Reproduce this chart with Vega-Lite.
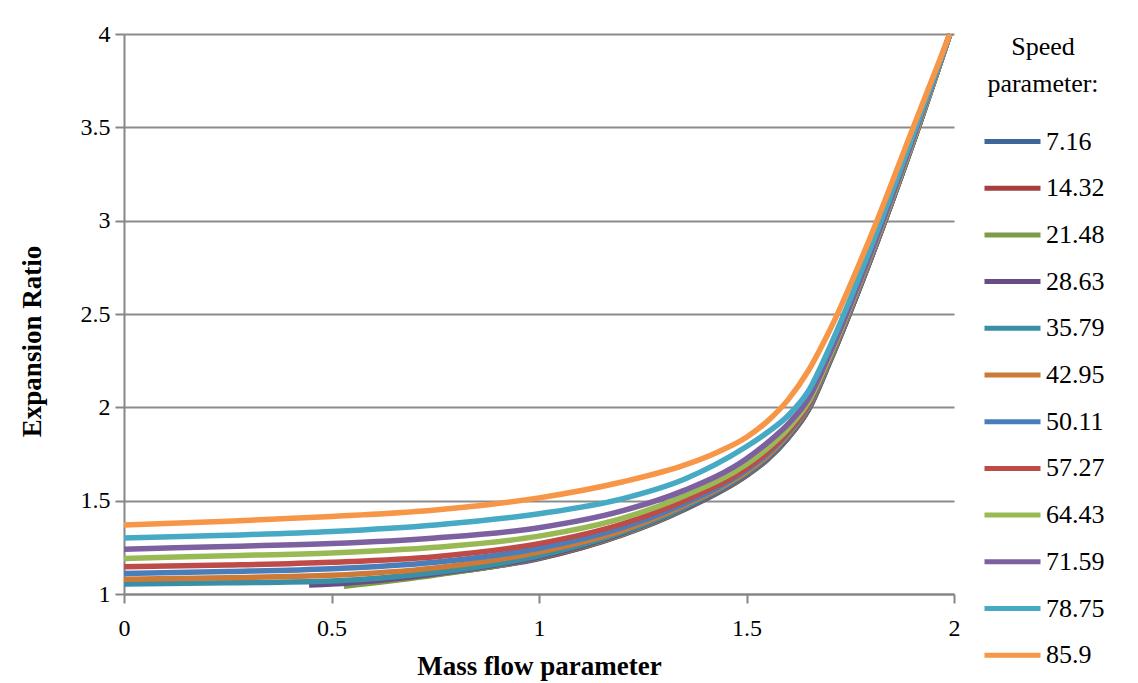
{
  "$schema": "https://vega.github.io/schema/vega-lite/v6.json",
  "width": 830,
  "height": 560,
  "autosize": {"type": "none"},
  "padding": {"left": 124, "top": 34, "right": 184, "bottom": 89},
  "background": "white",
  "config": {
    "font": "Liberation Serif",
    "view": {"stroke": null},
    "axis": {"labelFont": "Liberation Serif", "titleFont": "Liberation Serif", "labelColor": "black", "titleColor": "black"},
    "legend": {"labelFont": "Liberation Serif", "titleFont": "Liberation Serif"}
  },
  "data": {
    "values": [
      {"m": 0.72, "e": 1.1, "s": "7.16"}, {"m": 0.8, "e": 1.12, "s": "7.16"}, {"m": 1.0, "e": 1.19, "s": "7.16"}, {"m": 1.2, "e": 1.316, "s": "7.16"}, {"m": 1.35, "e": 1.453, "s": "7.16"}, {"m": 1.5, "e": 1.635, "s": "7.16"}, {"m": 1.55, "e": 1.72, "s": "7.16"}, {"m": 1.6, "e": 1.835, "s": "7.16"}, {"m": 1.65, "e": 1.99, "s": "7.16"}, {"m": 1.7, "e": 2.24, "s": "7.16"}, {"m": 1.8, "e": 2.8, "s": "7.16"}, {"m": 1.9, "e": 3.41, "s": "7.16"}, {"m": 1.99, "e": 4.0, "s": "7.16"},
      {"m": 0.62, "e": 1.085, "s": "14.32"}, {"m": 0.75, "e": 1.11, "s": "14.32"}, {"m": 1.0, "e": 1.192, "s": "14.32"}, {"m": 1.2, "e": 1.318, "s": "14.32"}, {"m": 1.35, "e": 1.455, "s": "14.32"}, {"m": 1.5, "e": 1.637, "s": "14.32"}, {"m": 1.55, "e": 1.722, "s": "14.32"}, {"m": 1.6, "e": 1.837, "s": "14.32"}, {"m": 1.65, "e": 1.992, "s": "14.32"}, {"m": 1.7, "e": 2.242, "s": "14.32"}, {"m": 1.8, "e": 2.8, "s": "14.32"}, {"m": 1.9, "e": 3.41, "s": "14.32"}, {"m": 1.99, "e": 4.0, "s": "14.32"},
      {"m": 0.53, "e": 1.042, "s": "21.48"}, {"m": 0.75, "e": 1.102, "s": "21.48"}, {"m": 1.0, "e": 1.195, "s": "21.48"}, {"m": 1.2, "e": 1.32, "s": "21.48"}, {"m": 1.35, "e": 1.458, "s": "21.48"}, {"m": 1.5, "e": 1.64, "s": "21.48"}, {"m": 1.55, "e": 1.725, "s": "21.48"}, {"m": 1.6, "e": 1.84, "s": "21.48"}, {"m": 1.65, "e": 1.995, "s": "21.48"}, {"m": 1.7, "e": 2.244, "s": "21.48"}, {"m": 1.8, "e": 2.8, "s": "21.48"}, {"m": 1.9, "e": 3.41, "s": "21.48"}, {"m": 1.99, "e": 4.0, "s": "21.48"},
      {"m": 0.446, "e": 1.048, "s": "28.63"}, {"m": 0.5, "e": 1.053, "s": "28.63"}, {"m": 0.75, "e": 1.108, "s": "28.63"}, {"m": 1.0, "e": 1.198, "s": "28.63"}, {"m": 1.2, "e": 1.325, "s": "28.63"}, {"m": 1.35, "e": 1.46, "s": "28.63"}, {"m": 1.5, "e": 1.643, "s": "28.63"}, {"m": 1.55, "e": 1.728, "s": "28.63"}, {"m": 1.6, "e": 1.843, "s": "28.63"}, {"m": 1.65, "e": 1.998, "s": "28.63"}, {"m": 1.7, "e": 2.246, "s": "28.63"}, {"m": 1.8, "e": 2.8, "s": "28.63"}, {"m": 1.9, "e": 3.41, "s": "28.63"}, {"m": 1.99, "e": 4.0, "s": "28.63"},
      {"m": 0, "e": 1.054, "s": "35.79"}, {"m": 0.25, "e": 1.06, "s": "35.79"}, {"m": 0.5, "e": 1.07, "s": "35.79"}, {"m": 0.75, "e": 1.115, "s": "35.79"}, {"m": 1.0, "e": 1.205, "s": "35.79"}, {"m": 1.2, "e": 1.33, "s": "35.79"}, {"m": 1.35, "e": 1.465, "s": "35.79"}, {"m": 1.5, "e": 1.648, "s": "35.79"}, {"m": 1.55, "e": 1.733, "s": "35.79"}, {"m": 1.6, "e": 1.848, "s": "35.79"}, {"m": 1.65, "e": 2.003, "s": "35.79"}, {"m": 1.7, "e": 2.25, "s": "35.79"}, {"m": 1.8, "e": 2.805, "s": "35.79"}, {"m": 1.9, "e": 3.415, "s": "35.79"}, {"m": 1.99, "e": 4.0, "s": "35.79"},
      {"m": 0, "e": 1.079, "s": "42.95"}, {"m": 0.25, "e": 1.087, "s": "42.95"}, {"m": 0.5, "e": 1.1, "s": "42.95"}, {"m": 0.75, "e": 1.14, "s": "42.95"}, {"m": 1.0, "e": 1.225, "s": "42.95"}, {"m": 1.2, "e": 1.34, "s": "42.95"}, {"m": 1.35, "e": 1.475, "s": "42.95"}, {"m": 1.5, "e": 1.655, "s": "42.95"}, {"m": 1.55, "e": 1.74, "s": "42.95"}, {"m": 1.6, "e": 1.855, "s": "42.95"}, {"m": 1.65, "e": 2.008, "s": "42.95"}, {"m": 1.7, "e": 2.255, "s": "42.95"}, {"m": 1.8, "e": 2.81, "s": "42.95"}, {"m": 1.9, "e": 3.42, "s": "42.95"}, {"m": 1.99, "e": 4.0, "s": "42.95"},
      {"m": 0, "e": 1.11, "s": "50.11"}, {"m": 0.25, "e": 1.12, "s": "50.11"}, {"m": 0.5, "e": 1.135, "s": "50.11"}, {"m": 0.75, "e": 1.17, "s": "50.11"}, {"m": 1.0, "e": 1.245, "s": "50.11"}, {"m": 1.2, "e": 1.355, "s": "50.11"}, {"m": 1.35, "e": 1.485, "s": "50.11"}, {"m": 1.5, "e": 1.665, "s": "50.11"}, {"m": 1.55, "e": 1.75, "s": "50.11"}, {"m": 1.6, "e": 1.862, "s": "50.11"}, {"m": 1.65, "e": 2.013, "s": "50.11"}, {"m": 1.7, "e": 2.26, "s": "50.11"}, {"m": 1.8, "e": 2.81, "s": "50.11"}, {"m": 1.9, "e": 3.42, "s": "50.11"}, {"m": 1.99, "e": 4.0, "s": "50.11"},
      {"m": 0, "e": 1.146, "s": "57.27"}, {"m": 0.25, "e": 1.155, "s": "57.27"}, {"m": 0.5, "e": 1.17, "s": "57.27"}, {"m": 0.75, "e": 1.2, "s": "57.27"}, {"m": 1.0, "e": 1.27, "s": "57.27"}, {"m": 1.2, "e": 1.375, "s": "57.27"}, {"m": 1.35, "e": 1.5, "s": "57.27"}, {"m": 1.5, "e": 1.675, "s": "57.27"}, {"m": 1.55, "e": 1.76, "s": "57.27"}, {"m": 1.6, "e": 1.87, "s": "57.27"}, {"m": 1.65, "e": 2.02, "s": "57.27"}, {"m": 1.7, "e": 2.265, "s": "57.27"}, {"m": 1.8, "e": 2.815, "s": "57.27"}, {"m": 1.9, "e": 3.42, "s": "57.27"}, {"m": 1.99, "e": 4.0, "s": "57.27"},
      {"m": 0, "e": 1.19, "s": "64.43"}, {"m": 0.25, "e": 1.205, "s": "64.43"}, {"m": 0.5, "e": 1.22, "s": "64.43"}, {"m": 0.75, "e": 1.25, "s": "64.43"}, {"m": 1.0, "e": 1.31, "s": "64.43"}, {"m": 1.2, "e": 1.405, "s": "64.43"}, {"m": 1.35, "e": 1.525, "s": "64.43"}, {"m": 1.5, "e": 1.695, "s": "64.43"}, {"m": 1.55, "e": 1.78, "s": "64.43"}, {"m": 1.6, "e": 1.885, "s": "64.43"}, {"m": 1.65, "e": 2.03, "s": "64.43"}, {"m": 1.7, "e": 2.27, "s": "64.43"}, {"m": 1.8, "e": 2.82, "s": "64.43"}, {"m": 1.9, "e": 3.42, "s": "64.43"}, {"m": 1.99, "e": 4.0, "s": "64.43"},
      {"m": 0, "e": 1.24, "s": "71.59"}, {"m": 0.25, "e": 1.255, "s": "71.59"}, {"m": 0.5, "e": 1.27, "s": "71.59"}, {"m": 0.75, "e": 1.3, "s": "71.59"}, {"m": 1.0, "e": 1.355, "s": "71.59"}, {"m": 1.2, "e": 1.445, "s": "71.59"}, {"m": 1.35, "e": 1.555, "s": "71.59"}, {"m": 1.5, "e": 1.725, "s": "71.59"}, {"m": 1.55, "e": 1.81, "s": "71.59"}, {"m": 1.6, "e": 1.91, "s": "71.59"}, {"m": 1.65, "e": 2.05, "s": "71.59"}, {"m": 1.7, "e": 2.285, "s": "71.59"}, {"m": 1.8, "e": 2.83, "s": "71.59"}, {"m": 1.9, "e": 3.43, "s": "71.59"}, {"m": 1.99, "e": 4.0, "s": "71.59"},
      {"m": 0, "e": 1.3, "s": "78.75"}, {"m": 0.25, "e": 1.315, "s": "78.75"}, {"m": 0.5, "e": 1.335, "s": "78.75"}, {"m": 0.75, "e": 1.37, "s": "78.75"}, {"m": 1.0, "e": 1.43, "s": "78.75"}, {"m": 1.2, "e": 1.51, "s": "78.75"}, {"m": 1.35, "e": 1.615, "s": "78.75"}, {"m": 1.5, "e": 1.79, "s": "78.75"}, {"m": 1.55, "e": 1.865, "s": "78.75"}, {"m": 1.6, "e": 1.955, "s": "78.75"}, {"m": 1.65, "e": 2.09, "s": "78.75"}, {"m": 1.7, "e": 2.32, "s": "78.75"}, {"m": 1.8, "e": 2.86, "s": "78.75"}, {"m": 1.9, "e": 3.45, "s": "78.75"}, {"m": 1.99, "e": 4.0, "s": "78.75"},
      {"m": 0, "e": 1.37, "s": "85.9"}, {"m": 0.25, "e": 1.39, "s": "85.9"}, {"m": 0.5, "e": 1.415, "s": "85.9"}, {"m": 0.75, "e": 1.45, "s": "85.9"}, {"m": 1.0, "e": 1.515, "s": "85.9"}, {"m": 1.2, "e": 1.6, "s": "85.9"}, {"m": 1.35, "e": 1.69, "s": "85.9"}, {"m": 1.43, "e": 1.76, "s": "85.9"}, {"m": 1.5, "e": 1.84, "s": "85.9"}, {"m": 1.55, "e": 1.925, "s": "85.9"}, {"m": 1.6, "e": 2.04, "s": "85.9"}, {"m": 1.65, "e": 2.2, "s": "85.9"}, {"m": 1.7, "e": 2.41, "s": "85.9"}, {"m": 1.8, "e": 2.92, "s": "85.9"}, {"m": 1.9, "e": 3.49, "s": "85.9"}, {"m": 1.99, "e": 4.0, "s": "85.9"}
    ]
  },
  "mark": {"type": "line", "strokeWidth": 5.5, "interpolate": "monotone", "clip": false},
  "encoding": {
    "x": {
      "field": "m", "type": "quantitative",
      "scale": {"domain": [0, 2], "nice": false, "zero": false},
      "axis": {
        "title": "Mass flow parameter", "values": [0, 0.5, 1, 1.5, 2], "format": "~g",
        "grid": false, "domainColor": "#868686", "domainWidth": 2, "tickColor": "#868686", "tickWidth": 2, "tickSize": 9,
        "labelFontSize": 24, "labelPadding": 13, "titleFontSize": 27, "titleFontWeight": "bold", "titlePadding": 13, "labelFlush": false
      }
    },
    "y": {
      "field": "e", "type": "quantitative",
      "scale": {"domain": [1, 4], "nice": false, "zero": false},
      "axis": {
        "title": "Expansion Ratio", "values": [1, 1.5, 2, 2.5, 3, 3.5, 4], "format": "~g",
        "grid": true, "gridColor": "#8c8c8c", "gridWidth": 2, "domainColor": "#868686", "domainWidth": 2, "tickColor": "#868686", "tickWidth": 2, "tickSize": 9,
        "labelFontSize": 24, "labelPadding": 5, "titleFontSize": 27, "titleFontWeight": "bold", "titlePadding": 34, "titleY": 307, "labelFlush": false
      }
    },
    "color": {
      "field": "s", "type": "nominal",
      "scale": {
        "domain": ["7.16", "14.32", "21.48", "28.63", "35.79", "42.95", "50.11", "57.27", "64.43", "71.59", "78.75", "85.9"],
        "range": ["#3d679b", "#a3403d", "#7f9a48", "#664d86", "#3a8ea6", "#cc7a36", "#4a7ebb", "#be4b48", "#98b954", "#7d60a0", "#46aac5", "#f79646"]
      },
      "legend": {
        "title": ["Speed", "parameter:"],
        "orient": "none", "legendX": 858, "legendY": 0,
        "titleFontSize": 26, "titleFontWeight": "normal", "titleAlign": "center", "titleAnchor": "middle", "titleLineHeight": 37, "titlePadding": 14,
        "labelFontSize": 26, "labelOffset": 3, "symbolType": "stroke", "symbolSize": 3136, "symbolStrokeWidth": 5, "rowPadding": 2.7
      }
    },
    "order": {"field": "m", "type": "quantitative"}
  }
}
